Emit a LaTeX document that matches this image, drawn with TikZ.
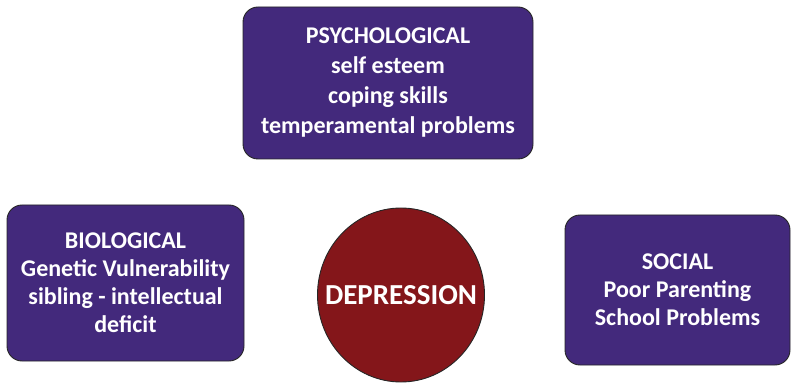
\documentclass[tikz,border=0pt]{standalone}
\usepackage{fontspec}
\setmainfont{Carlito}
\definecolor{boxpurple}{RGB}{67,41,124}
\definecolor{deepred}{RGB}{132,22,26}
\tikzset{
  factor/.style={draw=black!85, line width=0.9pt, fill=boxpurple, rounded corners=15pt,
    text=white, align=center, inner sep=0pt},
  coredisc/.style={draw=black!85, line width=0.9pt, fill=deepred},
  corelabel/.style={text=white, inner sep=0pt}
}
\begin{document}
\begin{tikzpicture}[x=1pt,y=1pt]
\useasboundingbox (0,0) rectangle (792,383);
\node[factor, minimum width=290pt, minimum height=152pt,
  font={\bfseries\fontsize{24}{30}\selectfont}] (psy) at (388,300)
  {PSYCHOLOGICAL\\self esteem\\coping skills\\temperamental problems};
\node[factor, minimum width=237pt, minimum height=156pt,
  font={\bfseries\fontsize{24}{28}\selectfont}] (bio) at (125.5,100)
  {BIOLOGICAL\\Genetic Vulnerability\\sibling - intellectual\\deficit};
\node[factor, minimum width=225pt, minimum height=150pt,
  font={\bfseries\fontsize{24}{28}\selectfont}] (soc) at (677.5,93)
  {SOCIAL\\Poor Parenting\\School Problems};
\coordinate (depc) at (401,88);
\path[coredisc] (depc) ellipse [x radius=83.5, y radius=87];
\node[corelabel, font={\bfseries\fontsize{29}{34}\selectfont}] (dep) at (depc) {DEPRESSION};
\end{tikzpicture}
\end{document}
